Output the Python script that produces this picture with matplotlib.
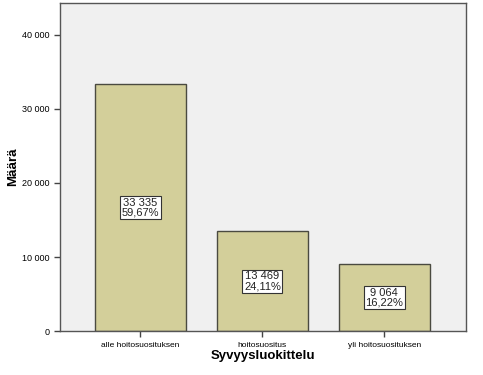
import matplotlib
matplotlib.use("Agg")
import matplotlib.pyplot as plt

plt.rcParams['font.family'] = ['Liberation Sans', 'DejaVu Sans']

# Data
luokat = ['alle hoitosuosituksen', 'hoitosuositus', 'yli hoitosuosituksen']
maarat = [33335, 13469, 9064]
osuudet = ['59,67%', '24,11%', '16,22%']
y_ticks = [0, 10000, 20000, 30000, 40000]

def muotoile(v):
    return f"{v:,}".replace(",", " ")

fig = plt.figure(figsize=(4.83, 3.75), dpi=100)
ax = fig.add_axes([0.124, 0.117, 0.841, 0.875])
ax.set_facecolor('#f0f0f0')

x = list(range(len(luokat)))
ax.bar(x, maarat, width=0.746, color='#d3cf9a', edgecolor='#4a4a40', linewidth=1.0, zorder=2)

for xi, m, p in zip(x, maarat, osuudet):
    ax.text(xi, m / 2, f"{muotoile(m)}\n{p}", ha='center', va='center', fontsize=8,
            linespacing=0.95, color='#222222', zorder=3,
            bbox=dict(boxstyle='square,pad=0.15', facecolor='white', edgecolor='#333333', linewidth=0.8))

ax.set_xlim(-0.66, 2.67)
ax.set_ylim(0, 44300)
ax.set_yticks(y_ticks)
ax.set_yticklabels([muotoile(v) for v in y_ticks], fontsize=6.5)
ax.set_xticks(x)
ax.set_xticklabels(luokat, fontsize=6)
ax.tick_params(axis='both', direction='out', length=4, width=1, color='#444444')

for s in ax.spines.values():
    s.set_color('#555555')
    s.set_linewidth(1.0)

ax.set_xlabel('Syvyysluokittelu', fontsize=9.5, fontweight='bold')
ax.set_ylabel('Määrä', fontsize=9.5, fontweight='bold')
ax.xaxis.set_label_coords(0.5, -0.058)
ax.yaxis.set_label_coords(-0.101, 0.5)

plt.savefig('out.png', dpi=100)
